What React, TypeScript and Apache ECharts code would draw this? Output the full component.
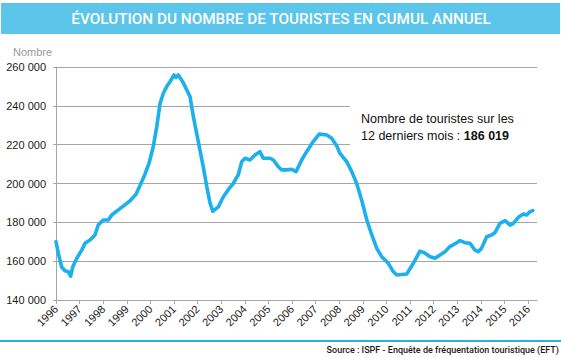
import React, { useEffect, useRef } from "react";
import * as echarts from "echarts";

const TITLE = "ÉVOLUTION DU NOMBRE DE TOURISTES EN CUMUL ANNUEL";
const SOURCE = "Source : ISPF - Enquête de fréquentation touristique (EFT)";
const Y_NAME = "Nombre";
const NOTE_LINE1 = "Nombre de touristes sur les";
const NOTE_LINE2 = "12 derniers mois : ";
const NOTE_VALUE = "186 019";

const YEAR_TICKS = [
  1996, 1997, 1998, 1999, 2000, 2001, 2002, 2003, 2004, 2005, 2006,
  2007, 2008, 2009, 2010, 2011, 2012, 2013, 2014, 2015, 2016,
];

const times = [
  1996.0, 1996.1, 1996.24, 1996.38, 1996.52, 1996.62, 1996.71, 1996.88,
  1997.09, 1997.23, 1997.44, 1997.65, 1997.79, 1998.0, 1998.22, 1998.36,
  1998.64, 1998.92, 1999.14, 1999.39, 1999.56, 1999.77, 1999.95, 2000.12,
  2000.27, 2000.41, 2000.55, 2000.69, 2000.83, 2001.0, 2001.08, 2001.18,
  2001.37, 2001.54, 2001.68, 2001.82, 2001.96, 2002.1, 2002.24, 2002.39,
  2002.53, 2002.64, 2002.88, 2003.09, 2003.34, 2003.51, 2003.72, 2003.87,
  2004.01, 2004.22, 2004.43, 2004.64, 2004.78, 2005.07, 2005.21, 2005.42,
  2005.56, 2005.78, 2005.99, 2006.17, 2006.41, 2006.62, 2006.9, 2007.16,
  2007.47, 2007.68, 2007.89, 2008.03, 2008.32, 2008.53, 2008.74, 2008.95,
  2009.17, 2009.38, 2009.59, 2009.8, 2010.08, 2010.29, 2010.44, 2010.86,
  2011.14, 2011.42, 2011.64, 2011.85, 2012.06, 2012.27, 2012.48, 2012.69,
  2012.98, 2013.12, 2013.33, 2013.54, 2013.75, 2013.89, 2014.03, 2014.25,
  2014.45, 2014.6, 2014.81, 2015.03, 2015.24, 2015.38, 2015.59, 2015.8,
  2015.94, 2016.08, 2016.2,
];

const tourists = [
  170000, 164000, 157000, 155100, 154600, 152300, 157100, 161500,
  165700, 169200, 170900, 173500, 178600, 181200, 181200, 183800,
  186400, 189000, 191100, 194500, 199000, 204800, 210800, 218900,
  229300, 241300, 246500, 249900, 252400, 255900, 254600, 255900,
  252400, 248200, 244700, 234400, 225800, 217200, 208600, 198300,
  189800, 185700, 188000, 193200, 197500, 200000, 204400, 211200,
  213000, 212100, 214700, 216400, 213000, 213000, 212100, 208600,
  207000, 207000, 207300, 206100, 212100, 216400, 221600, 225500,
  225000, 223300, 219500, 215500, 211200, 206100, 200000, 191500,
  181200, 173500, 166600, 162300, 158900, 154600, 152900, 153400,
  158900, 165200, 164100, 162300, 161500, 163200, 164900, 167500,
  169500, 170600, 169500, 169200, 165700, 164900, 166600, 172600,
  173500, 174700, 179500, 180900, 178600, 179500, 182600, 184300,
  183800, 185500, 186019,
];

const Y_MIN = 140000;
const Y_MAX = 260000;
const Y_STEP = 20000;
const X_MIN = 1996;
const X_MAX = 2016.38;

const fmt = (v: number) => {
  const s = String(Math.round(v));
  return s.replace(/\B(?=(\d{3})+(?!\d))/g, " ");
};

export default function App() {
  const ref = useRef<HTMLDivElement>(null);
  useEffect(() => {
    if (!ref.current) return;
    const chart = echarts.init(ref.current, undefined, { renderer: "svg" });
    const data = times.map((t, i) => [t, tourists[i]]);
    chart.setOption({
      animation: false,
      backgroundColor: "#ffffff",
      grid: { left: 56, right: 24, top: 67, bottom: 58, containLabel: false },
      xAxis: {
        type: "value",
        min: X_MIN,
        max: X_MAX,
        interval: 1,
        axisLine: { show: true, lineStyle: { color: "#a6a6a6", width: 1 } },
        axisTick: {
          show: true,
          length: 4,
          customValues: YEAR_TICKS,
          lineStyle: { color: "#a6a6a6" },
        },
        splitLine: { show: false },
        axisLabel: {
          customValues: YEAR_TICKS,
          rotate: 45,
          margin: 7,
          color: "#1a1a1a",
          fontSize: 11,
          fontFamily: "Liberation Sans",
          formatter: (v: number) => String(Math.round(v)),
        },
      },
      yAxis: {
        type: "value",
        min: Y_MIN,
        max: Y_MAX,
        interval: Y_STEP,
        axisLine: { show: true, lineStyle: { color: "#a6a6a6", width: 1 } },
        axisTick: { show: true, length: 3, lineStyle: { color: "#a6a6a6" } },
        splitLine: { show: true, lineStyle: { color: "#a6a6a6", width: 1 } },
        axisLabel: {
          margin: 10,
          color: "#1a1a1a",
          fontSize: 11,
          fontFamily: "Liberation Sans",
          formatter: (v: number) => fmt(v),
        },
      },
      series: [
        {
          type: "line",
          data,
          showSymbol: false,
          symbol: "none",
          smooth: false,
          lineStyle: { color: "#1cb0ec", width: 3.6, join: "round", cap: "round" },
          z: 5,
        },
      ],
      graphic: [
        {
          type: "rect",
          shape: { x: 1, y: 3, width: 559, height: 31 },
          style: { fill: "#5bc5ea" },
          silent: true,
        },
        {
          type: "text",
          x: 281,
          y: 19,
          style: {
            text: TITLE,
            fill: "#ffffff",
            font: "500 15.3px Roboto",
            textAlign: "center",
            textVerticalAlign: "middle",
          },
          silent: true,
        },
        {
          type: "text",
          x: 13,
          y: 52,
          style: {
            text: Y_NAME,
            fill: "#9a9a9a",
            font: "11px 'Liberation Sans'",
            textAlign: "left",
            textVerticalAlign: "middle",
          },
          silent: true,
        },
        {
          type: "rect",
          shape: { x: 350, y: 98, width: 190, height: 52 },
          style: { fill: "#ffffff" },
          z: 2,
          silent: true,
        },
        {
          type: "text",
          x: 361,
          y: 119,
          z: 3,
          style: {
            text: NOTE_LINE1,
            fill: "#111111",
            font: "12.5px 'Liberation Sans'",
            textAlign: "left",
            textVerticalAlign: "middle",
          },
          silent: true,
        },
        {
          type: "text",
          x: 361,
          y: 136,
          z: 3,
          style: {
            text: "{a|" + NOTE_LINE2 + "}{b|" + NOTE_VALUE + "}",
            textAlign: "left",
            textVerticalAlign: "middle",
            rich: {
              a: { fill: "#111111", fontSize: 12.5, fontFamily: "Liberation Sans" },
              b: {
                fill: "#111111",
                fontSize: 12.5,
                fontWeight: "bold",
                fontFamily: "Liberation Sans",
              },
            },
          },
          silent: true,
        },
        {
          type: "rect",
          shape: { x: 0, y: 340, width: 561, height: 2 },
          style: { fill: "#2aaee6" },
          silent: true,
        },
        {
          type: "text",
          x: 559,
          y: 350,
          style: {
            text: SOURCE,
            fill: "#1a1a1a",
            font: "500 9px Roboto",
            textAlign: "right",
            textVerticalAlign: "middle",
          },
          silent: true,
        },
      ],
    });
    return () => chart.dispose();
  }, []);
  return <div ref={ref} style={{ width: 561, height: 358, position: "fixed", left: 0, top: 0 }} />;
}
